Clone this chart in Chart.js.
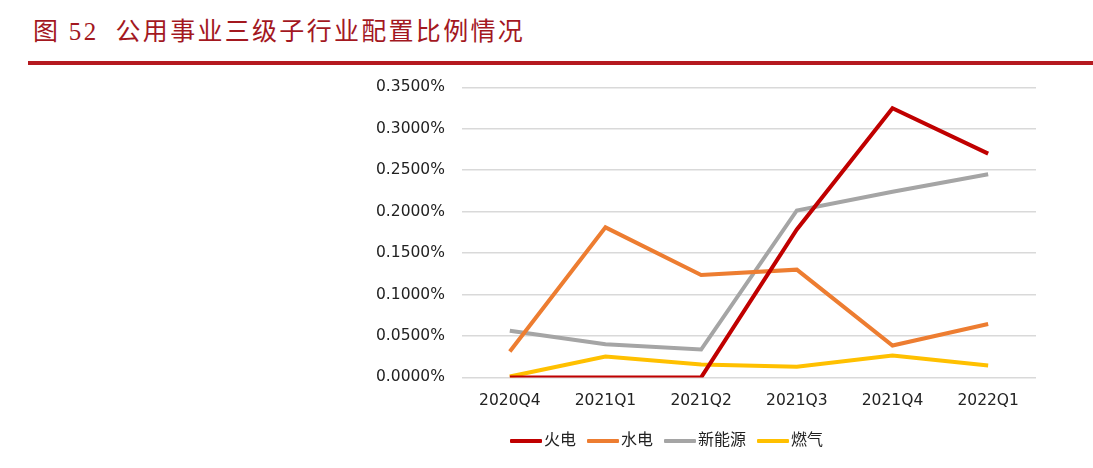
<!DOCTYPE html>
<html>
<head>
<meta charset="utf-8">
<script src="https://cdn.jsdelivr.net/npm/chart.js@4.4.1/dist/chart.umd.min.js"></script>
<style>
  body { margin: 0; background: #fff; width: 1093px; height: 468px; overflow: hidden; position: relative; }
  #title { position: absolute; left: 33px; top: 11px; font-family: "Liberation Serif", "Noto Sans CJK SC", serif; font-size: 25px; color: #a3181f; letter-spacing: 2.3px; white-space: nowrap; }
  #rule { position: absolute; left: 28px; top: 61px; width: 1065px; height: 4px; background: #b5191f; }
  #wrap { position: absolute; left: 0; top: 61px; width: 1093px; height: 407px; }
  #legend { position: absolute; left: 510px; top: 426px; font-family: "Noto Sans CJK SC", sans-serif; font-size: 16px; color: #222; white-space: nowrap; }
  #legend span.item { display: inline-block; margin-right: 11px; }
  #legend span.box { display: inline-block; width: 32px; height: 4px; vertical-align: middle; margin-right: 2px; border-radius: 1px; }
</style>
</head>
<body>
<div id="title">图 52&nbsp; 公用事业三级子行业配置比例情况</div>
<div id="rule"></div>
<div id="wrap"><canvas id="chart"></canvas></div>
<div id="legend"></div>
<script>
// quarters on the x axis
var quarters = ["2020Q4", "2021Q1", "2021Q2", "2021Q3", "2021Q4", "2022Q1"];

// allocation ratio, in percent
var thermal = [0.0000, 0.0000, 0.0000, 0.1785, 0.3248, 0.2700];
var hydro = [0.0312, 0.1810, 0.1235, 0.1300, 0.0384, 0.0645];
var newEnergy = [0.0563, 0.0400, 0.0336, 0.2014, 0.2240, 0.2450];
var gas = [0.0010, 0.0252, 0.0156, 0.0130, 0.0264, 0.0144];

var seriesNames = ["火电", "水电", "新能源", "燃气"];
var seriesColors = ["#c00000", "#ed7d31", "#a5a5a5", "#ffc000"];

var yTicks = [0, 0.05, 0.1, 0.15, 0.2, 0.25, 0.3, 0.35];

var ctx = document.getElementById("chart").getContext("2d");

var datasets = [thermal, hydro, newEnergy, gas].map(function (vals, i) {
  return {
    label: seriesNames[i],
    data: vals,
    borderColor: seriesColors[i],
    backgroundColor: seriesColors[i],
    borderWidth: 4,
    pointRadius: 0,
    tension: 0,
    fill: false
  };
});

var chart = new Chart(ctx, {
  type: "line",
  data: { labels: quarters, datasets: datasets },
  options: {
    responsive: true,
    maintainAspectRatio: false,
    animation: false,
    layout: { padding: { left: 359, right: 57, top: 13, bottom: 44 } },
    plugins: {
      tooltip: { enabled: false },
      legend: { display: false }
    },
    scales: {
      x: {
        offset: true,
        grid: { display: false, drawTicks: false },
        border: { display: false },
        ticks: {
          color: "#222",
          padding: 14,
          maxRotation: 0,
          font: { family: "'DejaVu Sans', sans-serif", size: 15.5 }
        }
      },
      y: {
        min: 0,
        max: 0.35,
        afterBuildTicks: function (axis) {
          axis.ticks = yTicks.map(function (v) { return { value: v }; });
        },
        grid: { color: "#d9d9d9", lineWidth: 1.5, drawTicks: false },
        border: { display: false },
        ticks: {
          color: "#222",
          padding: 17,
          font: { family: "'DejaVu Sans', sans-serif", size: 15.5 },
          callback: function (v) { return v.toFixed(4) + "%"; }
        }
      }
    }
  }
});

// html legend built from the chart's datasets
var legendDiv = document.getElementById("legend");
chart.data.datasets.forEach(function (ds) {
  var item = document.createElement("span");
  item.className = "item";
  var box = document.createElement("span");
  box.className = "box";
  box.style.background = ds.borderColor;
  item.appendChild(box);
  item.appendChild(document.createTextNode(ds.label));
  legendDiv.appendChild(item);
});
</script>
</body>
</html>
